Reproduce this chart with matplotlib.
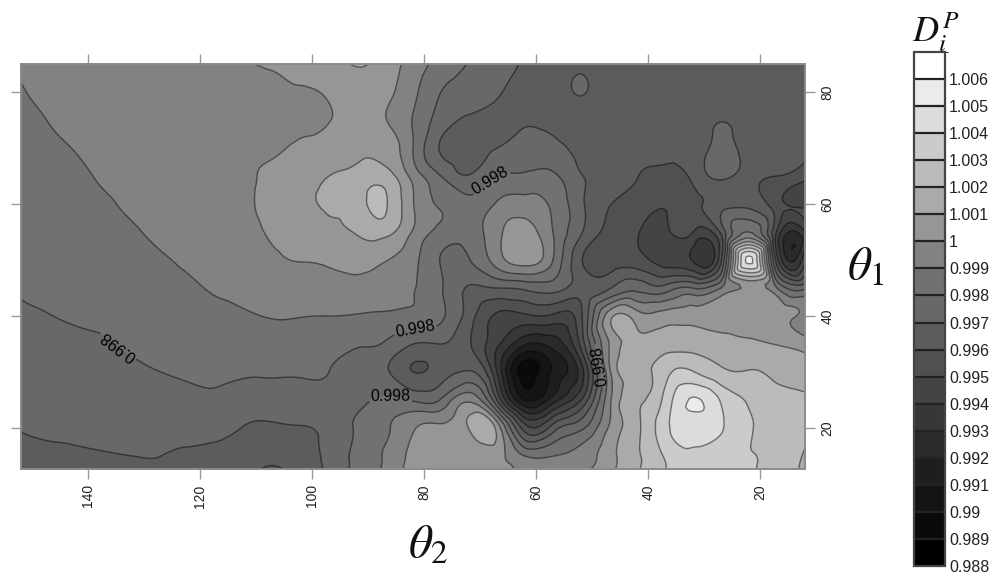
import matplotlib
matplotlib.use("Agg")
import matplotlib.pyplot as plt
import matplotlib.tri as mtri
from matplotlib.colors import BoundaryNorm, ListedColormap
import numpy as np

plt.rcParams["font.family"] = ["Liberation Sans", "DejaVu Sans"]
plt.rcParams["mathtext.fontset"] = "stix"

# grid nodes, in degrees
THETA2 = [152, 147, 142, 137, 132, 127, 122, 117, 112, 107, 102, 97, 92, 87, 82,
          77, 72, 67, 62, 57, 52, 47, 42, 37, 32, 27, 22, 17, 12]
THETA1 = [85, 80, 75, 70, 65, 60, 55, 50, 45, 40, 35, 30, 25, 20, 15, 12.7]

# (D - 1) * 1000, one list per THETA2 node, top to bottom
D_MIL = [
    [-0.9, -1.05, -1.2, -1.3, -1.4, -1.5, -1.6, -1.7, -1.9, -2.15, -2.4, -2.6, -2.8, -2.98, -3.1, -3.2],
    [-0.6, -0.8, -0.98, -1.15, -1.3, -1.45, -1.55, -1.65, -1.8, -2.02, -2.3, -2.55, -2.75, -2.9, -3.15, -3.25],
    [-0.4, -0.6, -0.75, -0.95, -1.15, -1.3, -1.45, -1.6, -1.75, -1.9, -2.2, -2.45, -2.65, -2.85, -3.1, -3.25],
    [-0.35, -0.45, -0.55, -0.7, -0.88, -1.1, -1.3, -1.5, -1.65, -1.8, -2.1, -2.4, -2.6, -2.8, -3.05, -3.2],
    [-0.3, -0.35, -0.45, -0.55, -0.7, -0.85, -1.1, -1.35, -1.55, -1.7, -1.85, -2.2, -2.5, -2.75, -3.0, -3.15],
    [-0.25, -0.3, -0.35, -0.45, -0.55, -0.65, -0.8, -1.1, -1.35, -1.55, -1.7, -2.0, -2.4, -2.7, -3.0, -3.1],
    [-0.2, -0.25, -0.3, -0.35, -0.4, -0.5, -0.65, -0.85, -1.15, -1.4, -1.6, -1.85, -2.25, -2.6, -3.2, -3.3],
    [-0.15, -0.2, -0.25, -0.3, -0.35, -0.4, -0.5, -0.65, -0.9, -1.25, -1.55, -1.8, -2.2, -2.7, -3.3, -3.4],
    [-0.05, -0.12, -0.2, -0.2, -0.15, -0.15, -0.3, -0.5, -0.75, -1.1, -1.5, -1.9, -2.45, -3.05, -3.4, -3.5],
    [0.1, -0.15, -0.3, -0.1, 0.15, 0.25, 0.12, -0.15, -0.5, -0.95, -1.45, -1.9, -2.5, -3.1, -3.7, -4.2],
    [0.25, -0.05, -0.2, 0.1, 0.4, 0.6, 0.35, 0.03, -0.45, -0.98, -1.4, -1.9, -2.5, -3.05, -3.3, -3.4],
    [0.4, 0.15, -0.03, 0.3, 1.0, 1.2, 0.7, 0.15, -0.4, -1.0, -1.55, -2.0, -2.4, -2.7, -2.8, -2.85],
    [1.1, 0.7, 0.45, 0.75, 1.35, 1.6, 1.1, 0.4, -0.35, -1.05, -1.9, -2.4, -2.3, -1.9, -1.7, -1.65],
    [0.5, 0.3, 0.05, 0.6, 1.5, 2.1, 1.35, 0.05, -0.6, -1.1, -2.1, -2.8, -1.8, -1.2, -0.9, -0.85],
    [-0.4, -0.75, -1.05, -1.0, -0.35, 0.05, -0.1, -0.7, -0.95, -1.2, -3.0, -4.0, -2.1, -0.1, 0.3, 0.4],
    [-1.4, -2.0, -2.5, -3.1, -2.0, -1.1, -1.3, -2.05, -1.9, -1.8, -3.0, -3.5, -1.9, 0.2, 0.5, 0.5],
    [-2.05, -2.5, -3.1, -3.3, -2.95, -1.6, -1.5, -2.05, -3.1, -3.5, -3.9, -2.9, -0.2, 1.05, 0.7, 0.6],
    [-2.5, -2.9, -3.2, -3.0, -2.0, -0.9, -0.3, -0.5, -3.0, -5.2, -5.8, -6.0, -4.0, 0.7, 0.35, 0.3],
    [-3.1, -3.4, -3.1, -2.6, -1.8, -0.6, 0.45, 0.5, -2.8, -5.2, -7.9, -10.5, -9.0, -4.5, -1.0, -0.2],
    [-3.2, -3.5, -3.3, -2.7, -1.8, -1.2, -1.0, -1.0, -2.6, -5.2, -7.6, -8.8, -7.5, -3.5, -1.0, -0.4],
    [-3.3, -2.95, -3.5, -3.3, -2.95, -2.8, -2.9, -3.9, -3.5, -4.2, -4.7, -6.5, -5.0, -2.2, -0.6, -0.2],
    [-3.4, -3.5, -3.5, -3.4, -3.3, -3.95, -4.3, -4.6, -3.1, 0.6, 0.0, -0.3, -0.3, 0.1, 0.6, 0.7],
    [-3.4, -3.5, -3.55, -3.6, -3.95, -4.5, -4.9, -4.6, -2.3, 0.5, 1.4, 1.6, 1.75, 1.8, 1.85, 1.9],
    [-3.45, -3.55, -3.6, -3.7, -4.3, -4.9, -5.3, -5.5, -2.6, 0.5, 1.5, 2.7, 3.3, 3.7, 3.1, 2.95],
    [-3.5, -3.55, -3.6, -3.6, -3.75, -4.3, -5.0, -6.1, -2.0, 0.6, 1.6, 3.05, 5.1, 4.5, 3.85, 3.6],
    [-3.55, -3.6, -3.05, -2.7, -2.8, -3.4, -3.8, -4.2, -1.0, 0.7, 1.3, 2.2, 3.9, 4.1, 3.3, 3.1],
    [-3.6, -3.6, -3.55, -3.5, -3.5, -3.3, -1.0, 5.3, 0.2, 0.7, 1.2, 2.05, 2.9, 3.1, 3.05, 3.05],
    [-3.6, -3.65, -3.7, -3.75, -4.0, -4.6, -5.2, -4.6, -1.0, 0.5, 0.95, 1.8, 2.4, 2.8, 2.7, 2.6],
    [-3.7, -3.8, -3.9, -4.0, -4.6, -5.3, -6.1, -5.2, -2.2, -0.4, 0.55, 1.45, 2.15, 2.2, 1.9, 1.8],
]

# lower bound of each colour band, the last band is open at the top
LEVELS = [0.988, 0.989, 0.99, 0.991, 0.992, 0.993, 0.994, 0.995, 0.996, 0.997,
          0.998, 0.999, 1.0, 1.001, 1.002, 1.003, 1.004, 1.005, 1.006, 1.007]
BAND_GRAYS = [0, 10, 20, 30, 42, 55, 68, 80, 92, 104,
              113, 130, 150, 170, 187, 203, 220, 235, 255]
LABEL_LEVEL = 0.998

X_TICKS = [140, 120, 100, 80, 60, 40, 20]
Y_TICKS = [80, 60, 40, 20]

# contour labels: where they sit, and which ones read upside down in the source
LABEL_SPOTS = [(135.2, 33.9), (81.6, 37.5), (86.1, 24.5), (68.3, 64.3), (48.6, 31.2)]
FLIPPED_SPOTS = [(135.2, 33.9), (48.6, 31.2)]

LINE_STYLE = {"colors": "black", "linewidths": 1.0, "alpha": 0.5}


def style_axis(ax):
    ax.set_xlim(152, 12)
    ax.set_ylim(12.7, 85)
    ax.set_xticks(X_TICKS)
    ax.set_yticks(Y_TICKS)
    ax.tick_params(axis="both", direction="out", length=7, width=1, color="#999999",
                   labelsize=10, labelcolor="#222222", top=True, right=True, left=True,
                   bottom=True, labelleft=False, labelright=True, pad=4)
    for label in ax.get_xticklabels():
        label.set_rotation(90)
    for label in ax.get_yticklabels():
        label.set_rotation(90)
        label.set_va("center")
    for spine in ax.spines.values():
        spine.set_color("#8a8a8a")
        spine.set_linewidth(1.4)


def draw_labels(ax, lines):
    texts = ax.clabel(lines, fmt="%.3f", fontsize=11.5, colors="black",
                      manual=LABEL_SPOTS, inline=True, inline_spacing=2)
    # clabel keeps its text upright, the source does not
    for text in texts:
        text.set_alpha(1)
        x, y = text.get_position()
        for spot in FLIPPED_SPOTS:
            if abs(x - spot[0]) < 8 and abs(y - spot[1]) < 8:
                text.set_rotation(text.get_rotation() + 180)


def main():
    grid_x, grid_y = np.meshgrid(THETA2, THETA1)
    z = 1 + np.array(D_MIL).T / 1000
    triang = mtri.Triangulation(grid_x.ravel(), grid_y.ravel())
    # the source contours are smooth curves, let the refiner round the mesh off
    fine_tri, fine_z = mtri.UniformTriRefiner(triang).refine_field(z.ravel(), subdiv=3)
    fine_z = np.clip(fine_z, LEVELS[0] + 1e-6, LEVELS[-1] - 1e-6)

    colors = [(g / 255, g / 255, g / 255) for g in BAND_GRAYS]
    cmap = ListedColormap(colors)
    norm = BoundaryNorm(LEVELS, cmap.N)

    fig = plt.figure(figsize=(10, 5.76), dpi=100)
    ax = fig.add_axes([0.021, 1 - 469 / 576, 0.784, 405 / 576])

    filled = ax.tricontourf(fine_tri, fine_z, levels=LEVELS, cmap=cmap, norm=norm)
    plain_levels = [lev for lev in LEVELS[:-1] if lev != LABEL_LEVEL]
    ax.tricontour(fine_tri, fine_z, levels=plain_levels, **LINE_STYLE)
    labelled = ax.tricontour(fine_tri, fine_z, levels=[LABEL_LEVEL], **LINE_STYLE)
    style_axis(ax)
    draw_labels(ax, labelled)

    ax.text(0.52, -0.19, r"$\theta_2$", transform=ax.transAxes, fontsize=34,
            ha="center", va="center", color="#111111")
    fig.text(0.866, 1 - 268 / 576, r"$\theta_1$", fontsize=34, ha="center", va="center",
             color="#111111")
    fig.text(0.936, 1 - 32 / 576, r"$D_i^P$", fontsize=26, ha="center", va="center",
             color="#111111")

    cax = fig.add_axes([0.914, 1 - 566 / 576, 0.031, 514 / 576])
    cbar = fig.colorbar(filled, cax=cax, ticks=LEVELS[:-1], format="%g", drawedges=True)
    cbar.ax.tick_params(length=0, labelsize=11.5, labelcolor="#222222", pad=3)
    cbar.dividers.set_color("#222222")
    cbar.dividers.set_linewidth(1.6)
    cbar.outline.set_edgecolor("#444444")
    cbar.outline.set_linewidth(1.6)

    fig.savefig("out.png", dpi=100)
    plt.close(fig)


if __name__ == "__main__":
    main()
